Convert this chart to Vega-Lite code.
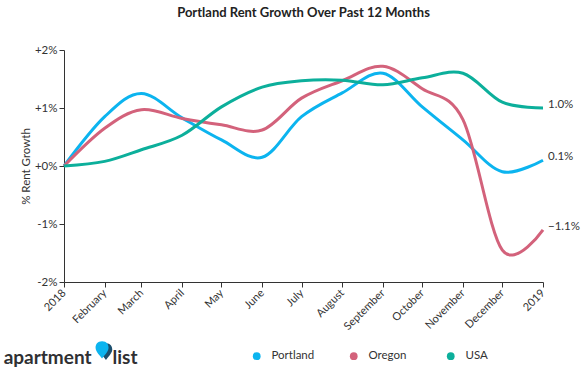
{
  "$schema": "https://vega.github.io/schema/vega-lite/v6.json",
  "width": 479,
  "height": 232,
  "autosize": "none",
  "padding": {"left": 64, "top": 50, "right": 45, "bottom": 87},
  "background": "white",
  "config": {
    "font": "Lato",
    "view": {"stroke": null},
    "axis": {"labelColor": "#333", "titleColor": "#333", "domainColor": "#333", "tickColor": "#333", "labelFontSize": 11, "grid": false}
  },
  "title": {"text": "Portland Rent Growth Over Past 12 Months", "fontSize": 13, "fontWeight": "bold", "color": "#222", "offset": 24, "anchor": "middle"},
  "datasets": {
    "rent": [
      {"date": "2018-01-01", "series": "Portland", "value": 0.0},
      {"date": "2018-02-01", "series": "Portland", "value": 0.0085},
      {"date": "2018-03-01", "series": "Portland", "value": 0.0125},
      {"date": "2018-04-01", "series": "Portland", "value": 0.0083},
      {"date": "2018-05-01", "series": "Portland", "value": 0.0045},
      {"date": "2018-06-01", "series": "Portland", "value": 0.0015},
      {"date": "2018-07-01", "series": "Portland", "value": 0.0085},
      {"date": "2018-08-01", "series": "Portland", "value": 0.0126},
      {"date": "2018-09-01", "series": "Portland", "value": 0.016},
      {"date": "2018-10-01", "series": "Portland", "value": 0.0102},
      {"date": "2018-11-01", "series": "Portland", "value": 0.0045},
      {"date": "2018-12-01", "series": "Portland", "value": -0.001},
      {"date": "2019-01-01", "series": "Portland", "value": 0.001},
      {"date": "2018-01-01", "series": "Oregon", "value": 0.0},
      {"date": "2018-02-01", "series": "Oregon", "value": 0.0065},
      {"date": "2018-03-01", "series": "Oregon", "value": 0.0097},
      {"date": "2018-04-01", "series": "Oregon", "value": 0.0082},
      {"date": "2018-05-01", "series": "Oregon", "value": 0.0071},
      {"date": "2018-06-01", "series": "Oregon", "value": 0.0062},
      {"date": "2018-07-01", "series": "Oregon", "value": 0.0117},
      {"date": "2018-08-01", "series": "Oregon", "value": 0.0147},
      {"date": "2018-09-01", "series": "Oregon", "value": 0.0172},
      {"date": "2018-10-01", "series": "Oregon", "value": 0.0133},
      {"date": "2018-11-01", "series": "Oregon", "value": 0.008},
      {"date": "2018-12-01", "series": "Oregon", "value": -0.0145},
      {"date": "2019-01-01", "series": "Oregon", "value": -0.011},
      {"date": "2018-01-01", "series": "USA", "value": 0.0},
      {"date": "2018-02-01", "series": "USA", "value": 0.0008},
      {"date": "2018-03-01", "series": "USA", "value": 0.0028},
      {"date": "2018-04-01", "series": "USA", "value": 0.0053},
      {"date": "2018-05-01", "series": "USA", "value": 0.0102},
      {"date": "2018-06-01", "series": "USA", "value": 0.0136},
      {"date": "2018-07-01", "series": "USA", "value": 0.0147},
      {"date": "2018-08-01", "series": "USA", "value": 0.0148},
      {"date": "2018-09-01", "series": "USA", "value": 0.014},
      {"date": "2018-10-01", "series": "USA", "value": 0.0152},
      {"date": "2018-11-01", "series": "USA", "value": 0.016},
      {"date": "2018-12-01", "series": "USA", "value": 0.011},
      {"date": "2019-01-01", "series": "USA", "value": 0.01}
    ]
  },
  "encoding": {
    "x": {
      "field": "date", "type": "temporal",
      "scale": {"type": "utc", "domain": [{"year": 2018, "month": 1, "date": 1, "utc": true}, {"year": 2019, "month": 1, "date": 1, "utc": true}]},
      "axis": {
        "title": null,
        "values": [
          {"year": 2018, "month": 1, "date": 1, "utc": true},
          {"year": 2018, "month": 2, "date": 1, "utc": true},
          {"year": 2018, "month": 3, "date": 1, "utc": true},
          {"year": 2018, "month": 4, "date": 1, "utc": true},
          {"year": 2018, "month": 5, "date": 1, "utc": true},
          {"year": 2018, "month": 6, "date": 1, "utc": true},
          {"year": 2018, "month": 7, "date": 1, "utc": true},
          {"year": 2018, "month": 8, "date": 1, "utc": true},
          {"year": 2018, "month": 9, "date": 1, "utc": true},
          {"year": 2018, "month": 10, "date": 1, "utc": true},
          {"year": 2018, "month": 11, "date": 1, "utc": true},
          {"year": 2018, "month": 12, "date": 1, "utc": true},
          {"year": 2019, "month": 1, "date": 1, "utc": true}
        ],
        "labelExpr": "utcFormat(datum.value, '%m') == '01' ? utcFormat(datum.value, '%Y') : utcFormat(datum.value, '%B')",
        "labelAngle": -45,
        "labelAlign": "right",
        "labelBaseline": "middle",
        "labelPadding": 4,
        "tickSize": 5,
        "labelOverlap": false,
        "labelFlush": false
      }
    },
    "y": {
      "field": "value", "type": "quantitative",
      "scale": {"domain": [-0.02, 0.02], "nice": false},
      "axis": {
        "title": "% Rent Growth",
        "titleFontWeight": "normal",
        "titleFontSize": 11.5,
        "titlePadding": 3,
        "values": [-0.02, -0.01, 0, 0.01, 0.02],
        "labelExpr": "(datum.value >= 0 ? '+' : '-') + format(abs(datum.value), '.0%')",
        "labelFontSize": 11.5,
        "tickSize": 5,
        "labelPadding": 2
      }
    }
  },
  "layer": [
    {
      "data": {"name": "rent"},
      "mark": {"type": "line", "interpolate": "cardinal", "strokeWidth": 3},
      "encoding": {
        "color": {
          "field": "series", "type": "nominal",
          "scale": {"domain": ["Portland", "Oregon", "USA"], "range": ["#0cb4ef", "#d3627b", "#0caf9b"]},
          "legend": {
            "title": null,
            "orient": "none",
            "legendX": 187,
            "legendY": 300,
            "direction": "horizontal",
            "columns": 3,
            "gridAlign": "all",
            "columnPadding": 33,
            "symbolType": "circle",
            "symbolSize": 60,
            "labelFontSize": 11.5,
            "labelColor": "#333",
            "labelOffset": 9,
            "encode": {"symbols": {"update": {"fill": {"scale": "color", "field": "value"}, "strokeWidth": {"value": 0}}}}
          }
        }
      }
    },
    {
      "data": {"name": "rent"},
      "transform": [{"filter": "utcyear(datum.date) == 2019"}],
      "mark": {"type": "text", "align": "left", "dx": 5, "dy": -3, "fontSize": 11.5, "color": "#333"},
      "encoding": {
        "text": {"field": "value", "type": "quantitative", "format": ".1%"}
      }
    },
    {
      "data": {"values": [{"date": "2017-11-16", "value": -0.0341, "word": "apartment"}, {"date": "2018-02-07", "value": -0.0341, "word": "list"}]},
      "mark": {"type": "text", "align": "left", "baseline": "alphabetic", "fontSize": 19, "fontWeight": "bold", "color": "#2f3033", "font": "Lato"},
      "encoding": {
        "text": {"field": "word"}
      }
    },
    {
      "data": {"values": [{"date": "2018-02-02", "value": -0.032}]},
      "mark": {"type": "point", "filled": true, "size": 280, "color": "#1c4f6e", "opacity": 1, "shape": "M0,-1 C0.55,-1 0.75,-0.6 0.75,-0.25 C0.75,0.2 0.2,0.7 0,1 C-0.2,0.7 -0.75,0.2 -0.75,-0.25 C-0.75,-0.6 -0.55,-1 0,-1 Z"},
      "encoding": {}
    },
    {
      "data": {"values": [{"date": "2018-01-30", "value": -0.0317}]},
      "mark": {"type": "point", "filled": true, "size": 300, "color": "#0cb4ef", "opacity": 1, "shape": "M0,-1 C0.55,-1 0.75,-0.6 0.75,-0.25 C0.75,0.2 0.2,0.7 0,1 C-0.2,0.7 -0.75,0.2 -0.75,-0.25 C-0.75,-0.6 -0.55,-1 0,-1 Z"},
      "encoding": {}
    }
  ]
}
